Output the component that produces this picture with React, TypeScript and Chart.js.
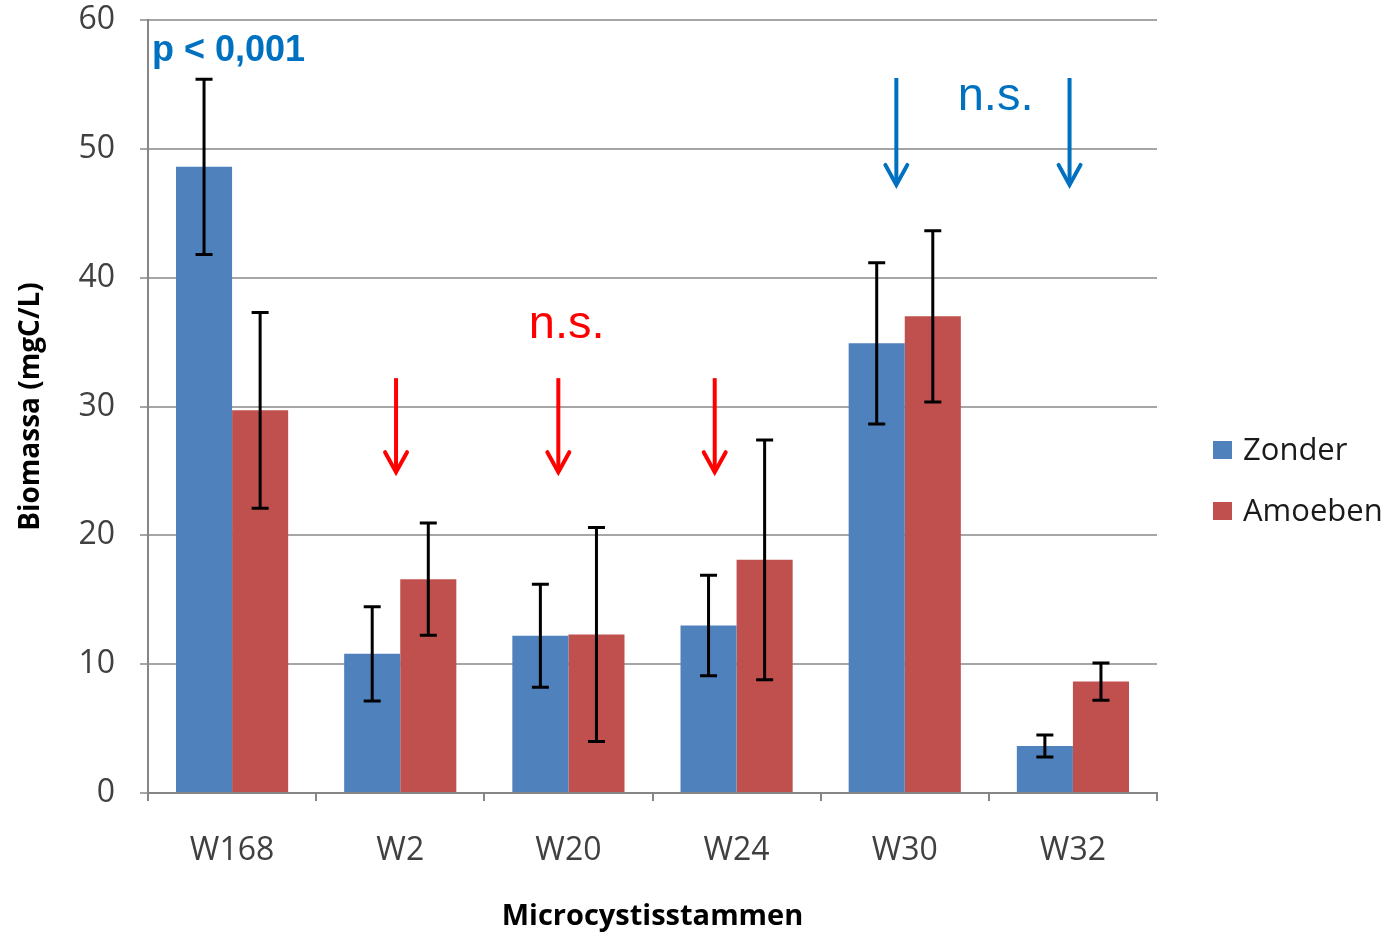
import React, { useEffect, useRef } from "react";
import { Chart, registerables } from "chart.js";

Chart.register(...registerables);

const categories = ["W168", "W2", "W20", "W24", "W30", "W32"];
const seriesNames = ["Zonder", "Amoeben"];
const zonder = [48.6, 10.8, 12.2, 13.0, 34.9, 3.65];
const zonderErr = [6.8, 3.65, 4.0, 3.9, 6.25, 0.85];
const amoeben = [29.7, 16.6, 12.3, 18.1, 37.0, 8.65];
const amoebenErr = [7.6, 4.35, 8.3, 9.3, 6.65, 1.45];
const yMin = 0;
const yMax = 60;
const yStep = 10;

// annotations in data units (category index, y value)
const pText = "p < 0,001";
const pPos = [-0.476, 57.6];
const nsText = "n.s.";
const redNsPos = [1.99, 36.3];
const blueNsPos = [4.54, 54.0];
const redArrowX = [0.975, 1.94, 2.87];
const redArrowY = [32.2, 24.9];
const blueArrowX = [3.95, 4.98];
const blueArrowY = [55.5, 47.2];

const BLUE = "#4F81BD";
const RED = "#C0504D";
const ANN_BLUE = "#0070C0";
const ANN_RED = "#FF0000";
const FONT = "'Open Sans', 'DejaVu Sans', sans-serif";
const AFONT = "'Liberation Sans', Arial, sans-serif";

function drawArrow(ctx: CanvasRenderingContext2D, x: number, y1: number, y2: number, color: string) {
  ctx.save();
  ctx.strokeStyle = color;
  ctx.lineWidth = 4;
  ctx.lineCap = "butt";
  ctx.beginPath();
  ctx.moveTo(x, y1);
  ctx.lineTo(x, y2 - 2);
  ctx.stroke();
  ctx.lineCap = "round";
  ctx.beginPath();
  ctx.moveTo(x - 11, y2 - 20);
  ctx.lineTo(x, y2);
  ctx.lineTo(x + 11, y2 - 20);
  ctx.stroke();
  ctx.restore();
}

const overlayPlugin = {
  id: "overlay",
  afterDatasetsDraw(chart: any) {
    const ctx: CanvasRenderingContext2D = chart.ctx;
    const xs = chart.scales.x;
    const ys = chart.scales.y;
    const errs = [zonderErr, amoebenErr];
    // error bars
    chart.data.datasets.forEach((ds: any, di: number) => {
      const meta = chart.getDatasetMeta(di);
      meta.data.forEach((bar: any, i: number) => {
        const v = ds.data[i];
        const e = errs[di][i];
        const yt = ys.getPixelForValue(v + e);
        const yb = ys.getPixelForValue(v - e);
        const x = bar.x;
        ctx.save();
        ctx.strokeStyle = "#000";
        ctx.lineWidth = 3;
        ctx.beginPath();
        ctx.moveTo(x, yt);
        ctx.lineTo(x, yb);
        ctx.moveTo(x - 8.5, yt);
        ctx.lineTo(x + 8.5, yt);
        ctx.moveTo(x - 8.5, yb);
        ctx.lineTo(x + 8.5, yb);
        ctx.stroke();
        ctx.restore();
      });
    });
    // annotations
    const px = (c: number) => xs.getPixelForValue(0) + c * (xs.getPixelForValue(1) - xs.getPixelForValue(0));
    ctx.save();
    ctx.fillStyle = ANN_BLUE;
    ctx.font = `bold 36px ${AFONT}`;
    ctx.textAlign = "left";
    ctx.textBaseline = "middle";
    ctx.fillText(pText, px(pPos[0]), ys.getPixelForValue(pPos[1]));
    ctx.font = `47px ${AFONT}`;
    ctx.textAlign = "center";
    ctx.fillStyle = ANN_RED;
    ctx.fillText(nsText, px(redNsPos[0]), ys.getPixelForValue(redNsPos[1]));
    ctx.fillStyle = ANN_BLUE;
    ctx.fillText(nsText, px(blueNsPos[0]), ys.getPixelForValue(blueNsPos[1]));
    ctx.restore();
    redArrowX.forEach((c) => drawArrow(ctx, px(c), ys.getPixelForValue(redArrowY[0]), ys.getPixelForValue(redArrowY[1]), ANN_RED));
    blueArrowX.forEach((c) => drawArrow(ctx, px(c), ys.getPixelForValue(blueArrowY[0]), ys.getPixelForValue(blueArrowY[1]), ANN_BLUE));
    // legend
    const ca = chart.chartArea;
    const lx = ca.right + 56;
    const colors = [BLUE, RED];
    ctx.save();
    ctx.font = `31px ${FONT}`;
    ctx.textAlign = "left";
    ctx.textBaseline = "middle";
    seriesNames.forEach((name, i) => {
      const cy = 450 + i * 61;
      ctx.fillStyle = colors[i];
      ctx.fillRect(lx, cy - 9, 19, 18);
      ctx.fillStyle = "#1a1a1a";
      ctx.fillText(name, lx + 30, cy + 1);
    });
    ctx.restore();
  },
};

export default function App() {
  const ref = useRef<HTMLCanvasElement>(null);
  useEffect(() => {
    document.body.style.margin = "0";
    const chart = new Chart(ref.current!, {
      type: "bar",
      data: {
        labels: categories,
        datasets: [
          { label: seriesNames[0], data: zonder, backgroundColor: BLUE },
          { label: seriesNames[1], data: amoeben, backgroundColor: RED },
        ],
      },
      options: {
        animation: false,
        responsive: false,
        devicePixelRatio: 1,
        layout: { padding: { top: 20, right: 235, left: 0, bottom: 0 } },
        plugins: { legend: { display: false }, tooltip: { enabled: false } },
        datasets: { bar: { categoryPercentage: 0.667, barPercentage: 1.0 } },
        scales: {
          x: {
            grid: { display: true, drawOnChartArea: false, drawTicks: true, tickLength: 8, color: "#868686", lineWidth: 2, offset: true },
            border: { display: true, color: "#868686", width: 2 },
            ticks: { font: { family: FONT, size: 32 }, color: "#404040", padding: 31 },
            title: { display: true, text: "Microcystisstammen", font: { family: FONT, size: 29, weight: "bold" }, color: "#000", padding: { top: 0, bottom: 2 } },
            afterFit: (s: any) => { s.height = 143; },
          },
          y: {
            min: yMin,
            max: yMax,
            ticks: { stepSize: yStep, font: { family: FONT, size: 32 }, color: "#404040", padding: 25 },
            grid: { color: "#A6A6A6", lineWidth: 2, tickLength: 8, drawTicks: true },
            border: { display: true, color: "#868686", width: 2 },
            title: { display: true, text: "Biomassa (mgC/L)", font: { family: FONT, size: 28, weight: "bold" }, color: "#000", padding: { top: 14, bottom: 0 } },
            afterFit: (s: any) => { s.width = 148; s.paddingTop = 0; s.paddingBottom = 0; },
          },
        },
      },
      plugins: [overlayPlugin],
    });
    return () => chart.destroy();
  }, []);
  return (
    <div style={{ position: "absolute", left: 0, top: 0, width: 1392, height: 936, background: "#fff" }}>
      <canvas ref={ref} width={1392} height={936} />
    </div>
  );
}
